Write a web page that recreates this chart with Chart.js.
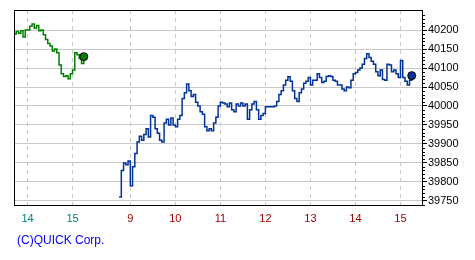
<!DOCTYPE html>
<html>
<head>
<meta charset="utf-8">
<script src="https://cdn.jsdelivr.net/npm/chart.js@4"></script>
<style>
  body { margin: 0; background: #fff; }
  #wrap { position: relative; width: 475px; height: 260px; }
  #copy { position: absolute; left: 17px; top: 233px; font: 12px "Liberation Sans", sans-serif; color: #0000ff; }
</style>
</head>
<body>
<div id="wrap">
  <canvas id="futuresChart" width="475" height="260"></canvas>
  <div id="copy">(C)QUICK Corp.</div>
</div>
<script>
// 前日 (夜間分) セッション : 13:42 から 3分ごと
const prevStart = '13:42';
const prevValues = [
  40190, 40196, 40192, 40198, 40182, 40200, 40200, 40210, 40216, 40205,
  40212, 40198, 40200, 40188, 40175, 40165, 40158, 40145, 40150, 40140,
  40108, 40085, 40078, 40080, 40072, 40085, 40095, 40140, 40135, 40125,
  40112, 40130
];

// 当日セッション : 08:45 から 3分ごと
const dayStart = '08:45';
const dayValues = [
  39760, 39830, 39850, 39845, 39855, 39790, 39840, 39875, 39905, 39920,
  39910, 39925, 39940, 39918, 39975, 39970, 39940, 39928, 39910, 39905,
  39955, 39965, 39950, 39968, 39950, 39945, 39965, 39975, 40020, 40035,
  40058, 40040, 40025, 40030, 40010, 40000, 39985, 39978, 39945, 39935,
  39940, 39935, 39955, 39970, 40000, 40010, 40008, 40005, 39998, 40008,
  39990, 39985, 40005, 40000, 40008, 40000, 40005, 39965, 39990, 40005,
  40012, 39990, 39965, 39975, 39980, 39998, 39998, 39998, 39998, 40000,
  40012, 40030, 40040, 40055, 40068, 40077, 40065, 40040, 40020, 40012,
  40035, 40045, 40060, 40065, 40075, 40055, 40068, 40068, 40085, 40075,
  40062, 40065, 40078, 40080, 40078, 40068, 40065, 40055, 40055, 40045,
  40040, 40050, 40048, 40068, 40085, 40088, 40095, 40100, 40110, 40125,
  40138, 40128, 40118, 40110, 40090, 40080, 40095, 40070, 40068, 40110,
  40108, 40090, 40095, 40085, 40075, 40120, 40075, 40065, 40055, 40068,
  40080
];
const stepMin = 3;

// x軸ラベル
const xTickTimes = [['prev', '14:00'], ['prev', '15:00'], ['day', '09:00'], ['day', '10:00'], ['day', '11:00'],
                    ['day', '12:00'], ['day', '13:00'], ['day', '14:00'], ['day', '15:00']];
const xTickLabels = ['14', '15', '9', '10', '11', '12', '13', '14', '15'];
const yTickValues = [39750, 39800, 39850, 39900, 39950, 40000, 40050, 40100, 40150, 40200];

// 時刻 -> x位置 (分)
function mins(t) { const p = t.split(':'); return (+p[0]) * 60 + (+p[1]); }
const dayOffset = 140;
function toX(session, t) {
  if (session === 'prev') return mins(t) - mins(prevStart);
  return mins(t) - mins(dayStart) + dayOffset;
}

const prevData = prevValues.map((v, i) => ({ x: toX('prev', prevStart) + i * stepMin, y: v }));
const dayData = dayValues.map((v, i) => ({ x: toX('day', dayStart) + i * stepMin, y: v }));
const xTickPos = xTickTimes.map(t => toX(t[0], t[1]));

const lastMarker = (n) => (ctx) => ctx.dataIndex === n - 1 ? 4 : 0;

// 枠と補助目盛り
const framePlugin = {
  id: 'frame',
  afterDraw(chart) {
    const { ctx, chartArea: a } = chart;
    const ys = chart.scales.y;
    ctx.save();
    ctx.strokeStyle = '#000';
    ctx.lineWidth = 1;
    ctx.strokeRect(Math.round(a.left) + 0.5, Math.round(a.top) + 0.5,
                   Math.round(a.right - a.left) - 1, Math.round(a.bottom - a.top));
    ctx.beginPath();
    for (let v = 39740; v <= 40250; v += 10) {
      if (v % 50 === 0) continue;
      const y = Math.round(ys.getPixelForValue(v)) + 0.5;
      ctx.moveTo(a.right, y);
      ctx.lineTo(a.right + 2, y);
    }
    ctx.stroke();
    ctx.restore();
  }
};

const ctx = document.getElementById('futuresChart');
const chart = new Chart(ctx, {
  type: 'line',
  data: {
    datasets: [{
      data: prevData,
      borderColor: '#008000',
      backgroundColor: '#008000',
      pointBackgroundColor: '#008000',
      pointBorderColor: '#000',
      pointBorderWidth: 1,
      pointRadius: lastMarker(prevData.length),
      borderWidth: 1.5,
      stepped: true,
      fill: false
    }, {
      data: dayData,
      borderColor: '#003399',
      backgroundColor: '#003399',
      pointBackgroundColor: '#003399',
      pointBorderColor: '#000',
      pointBorderWidth: 1,
      pointRadius: lastMarker(dayData.length),
      borderWidth: 1.5,
      stepped: true,
      fill: false
    }]
  },
  options: {
    responsive: false,
    animation: false,
    layout: { padding: { left: 14, top: 10, right: 0, bottom: 0 } },
    plugins: { legend: { display: false }, tooltip: { enabled: false } },
    scales: {
      x: {
        type: 'linear',
        min: 0,
        max: 545,
        afterBuildTicks: (s) => { s.ticks = xTickPos.map(v => ({ value: v })); },
        afterFit: (s) => { s.height = 55; },
        grid: { color: '#c8c8c8', drawTicks: false },
        border: { display: false, dash: [4, 4] },
        ticks: {
          autoSkip: false,
          maxRotation: 0,
          padding: 7,
          font: { family: 'Liberation Sans', size: 11 },
          color: (c) => c.index < 2 ? '#008080' : '#a00000',
          callback: (v, i) => xTickLabels[i]
        }
      },
      y: {
        position: 'right',
        min: 39739,
        max: 40253,
        afterBuildTicks: (s) => { s.ticks = yTickValues.map(v => ({ value: v })); },
        afterFit: (s) => { s.width = 52; },
        grid: { color: '#c8c8c8', tickColor: '#000', tickLength: 4 },
        border: { display: false },
        ticks: {
          padding: 1,
          font: { family: 'Liberation Sans', size: 11 },
          color: '#000',
          callback: (v) => String(v)
        }
      }
    }
  },
  plugins: [framePlugin]
});
</script>
</body>
</html>
